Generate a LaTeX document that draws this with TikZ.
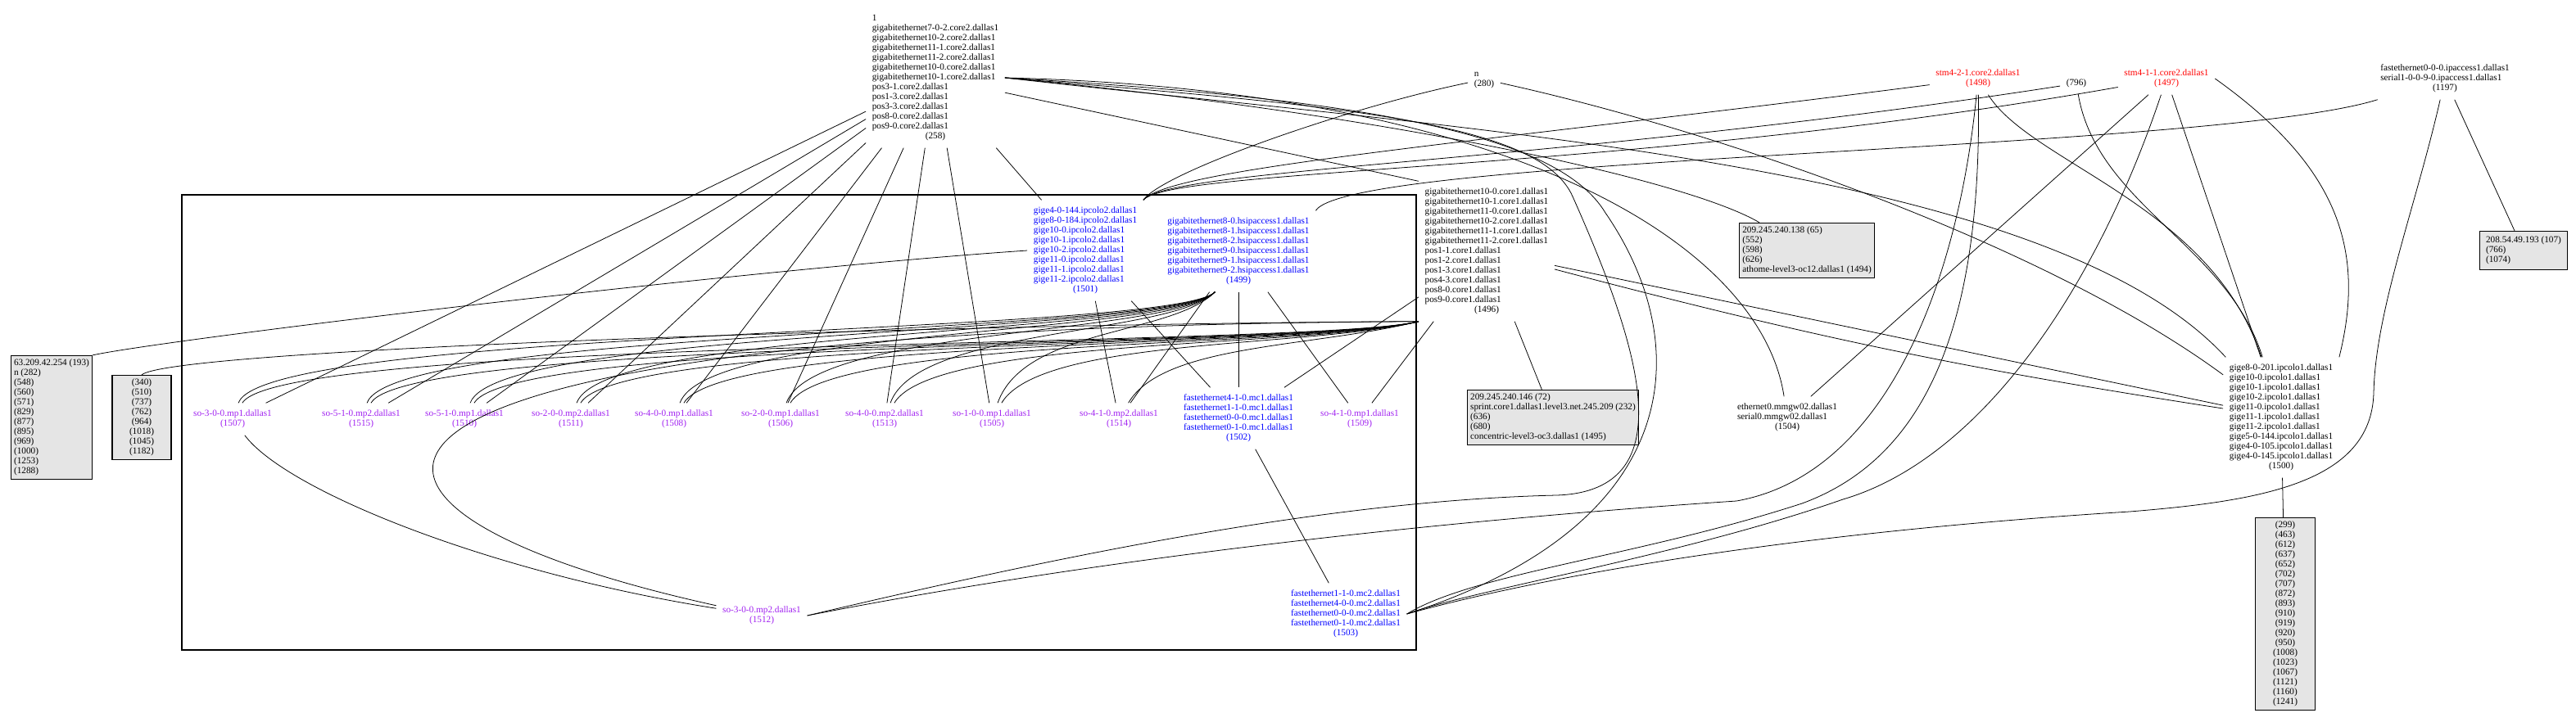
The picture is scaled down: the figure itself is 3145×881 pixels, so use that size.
\documentclass[tikz,border=0pt]{standalone}
\usepackage{fontspec}
\setmainfont{Liberation Serif}
\usetikzlibrary{positioning}
\definecolor{soviolet}{RGB}{160,32,240}
\tikzset{
    host/.style = {inner sep=2pt, font=\fontsize{3.2}{3.41}\selectfont},
    hostb/.style = {host, text=blue},
    hostr/.style = {host, text=red},
    hostv/.style = {host, text=soviolet},
    pool/.style = {rectangle, draw=black, line width=0.4pt, fill=black!10, inner sep=1pt, font=\fontsize{3.2}{3.41}\selectfont},
    link/.style = {draw=black, line width=0.22pt},
    cluster/.style = {draw=black, line width=0.4pt},
}
\newcommand{\Lb}[1]{\begin{tabular}{@{}l@{}}#1\end{tabular}}
\newcommand{\Cb}[1]{\begin{tabular}{@{}c@{}}#1\end{tabular}}
\newcommand{\Nb}[1]{\multicolumn{1}{@{}c@{}}{(#1)}}

\begin{document}
\begin{tikzpicture}[x=0.01cm, y=-0.01cm]
\useasboundingbox (0,0) rectangle (3145,881);
\draw[cluster] (222,238) rectangle (1729,794);
% top row
\node[host] at (1142, 95) (n258) {\Lb{1\\gigabitethernet7-0-2.core2.dallas1\\gigabitethernet10-2.core2.dallas1\\gigabitethernet11-1.core2.dallas1\\gigabitethernet11-2.core2.dallas1\\gigabitethernet10-0.core2.dallas1\\gigabitethernet10-1.core2.dallas1\\pos3-1.core2.dallas1\\pos1-3.core2.dallas1\\pos3-3.core2.dallas1\\pos8-0.core2.dallas1\\pos9-0.core2.dallas1\\\Nb{258}}};
\node[host] at (1812, 97) (n280) {\Lb{n\\\Nb{280}}};
\node[hostr] at (2415, 96) (n1498) {\Lb{stm4-2-1.core2.dallas1\\\Nb{1498}}};
\node[host] at (2535, 102) (n796) {(796)};
\node[hostr] at (2645, 96) (n1497) {\Lb{stm4-1-1.core2.dallas1\\\Nb{1497}}};
\node[host] at (2985, 96) (n1197) {\Lb{fastethernet0-0-0.ipaccess1.dallas1\\serial1-0-0-9-0.ipaccess1.dallas1\\\Nb{1197}}};
% middle row
\node[hostb] at (1325, 306) (n1501) {\Lb{gige4-0-144.ipcolo2.dallas1\\gige8-0-184.ipcolo2.dallas1\\gige10-0.ipcolo2.dallas1\\gige10-1.ipcolo2.dallas1\\gige10-2.ipcolo2.dallas1\\gige11-0.ipcolo2.dallas1\\gige11-1.ipcolo2.dallas1\\gige11-2.ipcolo2.dallas1\\\Nb{1501}}};
\node[hostb] at (1512, 307) (n1499) {\Lb{gigabitethernet8-0.hsipaccess1.dallas1\\gigabitethernet8-1.hsipaccess1.dallas1\\gigabitethernet8-2.hsipaccess1.dallas1\\gigabitethernet9-0.hsipaccess1.dallas1\\gigabitethernet9-1.hsipaccess1.dallas1\\gigabitethernet9-2.hsipaccess1.dallas1\\\Nb{1499}}};
\node[host] at (1815, 307) (n1496) {\Lb{gigabitethernet10-0.core1.dallas1\\gigabitethernet10-1.core1.dallas1\\gigabitethernet11-0.core1.dallas1\\gigabitethernet10-2.core1.dallas1\\gigabitethernet11-1.core1.dallas1\\gigabitethernet11-2.core1.dallas1\\pos1-1.core1.dallas1\\pos1-2.core1.dallas1\\pos1-3.core1.dallas1\\pos4-3.core1.dallas1\\pos8-0.core1.dallas1\\pos9-0.core1.dallas1\\\Nb{1496}}};
\node[pool, minimum width=1.55cm, minimum height=0.65cm] at (2206, 306) (box138) {\Lb{209.245.240.138 (65)\\(552)\\(598)\\(626)\\athome-level3-oc12.dallas1 (1494)}};
\node[pool, minimum width=1.07cm, minimum height=0.47cm] at (3081, 306) (box107) {\Lb{208.54.49.193 (107)\\(766)\\(1074)}};
% so row
\node[hostv] at (284, 512) (s1507) {\Lb{so-3-0-0.mp1.dallas1\\\Nb{1507}}};
\node[hostv] at (441, 512) (s1515) {\Lb{so-5-1-0.mp2.dallas1\\\Nb{1515}}};
\node[hostv] at (567, 512) (s1510) {\Lb{so-5-1-0.mp1.dallas1\\\Nb{1510}}};
\node[hostv] at (697, 512) (s1511) {\Lb{so-2-0-0.mp2.dallas1\\\Nb{1511}}};
\node[hostv] at (823, 512) (s1508) {\Lb{so-4-0-0.mp1.dallas1\\\Nb{1508}}};
\node[hostv] at (953, 512) (s1506) {\Lb{so-2-0-0.mp1.dallas1\\\Nb{1506}}};
\node[hostv] at (1080, 512) (s1513) {\Lb{so-4-0-0.mp2.dallas1\\\Nb{1513}}};
\node[hostv] at (1211, 512) (s1505) {\Lb{so-1-0-0.mp1.dallas1\\\Nb{1505}}};
\node[hostv] at (1366, 512) (s1514) {\Lb{so-4-1-0.mp2.dallas1\\\Nb{1514}}};
\node[hostb] at (1512, 511) (n1502) {\Lb{fastethernet4-1-0.mc1.dallas1\\fastethernet1-1-0.mc1.dallas1\\fastethernet0-0-0.mc1.dallas1\\fastethernet0-1-0.mc1.dallas1\\\Nb{1502}}};
\node[hostv] at (1660, 512) (s1509) {\Lb{so-4-1-0.mp1.dallas1\\\Nb{1509}}};
\node[pool, minimum width=0.99cm, minimum height=1.5cm] at (63, 510) (box63) {\Lb{63.209.42.254 (193)\\n (282)\\(548)\\(560)\\(571)\\(829)\\(877)\\(895)\\(969)\\(1000)\\(1253)\\(1288)}};
\node[pool, minimum width=0.72cm, minimum height=1.02cm] at (173, 510) (box340) {\Cb{(340)\\(510)\\(737)\\(762)\\(964)\\(1018)\\(1045)\\(1182)}};
\node[pool, minimum width=2.06cm, minimum height=0.64cm] at (1896, 510) (box146) {\Lb{209.245.240.146 (72)\\sprint.core1.dallas1.level3.net.245.209 (232)\\(636)\\(680)\\concentric-level3-oc3.dallas1 (1495)}};
\node[host] at (2182, 510) (n1504) {\Lb{ethernet0.mmgw02.dallas1\\serial0.mmgw02.dallas1\\\Nb{1504}}};
\node[host] at (2785, 510) (n1500) {\Lb{gige8-0-201.ipcolo1.dallas1\\gige10-0.ipcolo1.dallas1\\gige10-1.ipcolo1.dallas1\\gige10-2.ipcolo1.dallas1\\gige11-0.ipcolo1.dallas1\\gige11-1.ipcolo1.dallas1\\gige11-2.ipcolo1.dallas1\\gige5-0-144.ipcolo1.dallas1\\gige4-0-105.ipcolo1.dallas1\\gige4-0-145.ipcolo1.dallas1\\\Nb{1500}}};
% bottom row
\node[hostv] at (930, 752) (s1512) {\Lb{so-3-0-0.mp2.dallas1\\\Nb{1512}}};
\node[hostb] at (1643, 750) (n1503) {\Lb{fastethernet1-1-0.mc2.dallas1\\fastethernet4-0-0.mc2.dallas1\\fastethernet0-0-0.mc2.dallas1\\fastethernet0-1-0.mc2.dallas1\\\Nb{1503}}};
\node[pool, minimum width=0.73cm, minimum height=2.32cm] at (2790, 750) (box1500) {\Cb{(299)\\(463)\\(612)\\(637)\\(652)\\(702)\\(707)\\(872)\\(893)\\(910)\\(919)\\(920)\\(950)\\(1008)\\(1023)\\(1067)\\(1121)\\(1160)\\(1241)}};
%
\draw[link] (n258) edge (s1507);
\draw[link] (n258) edge (s1515);
\draw[link] (n258) edge (s1510);
\draw[link] (n258) edge (s1511);
\draw[link] (n258) edge (s1508);
\draw[link] (n258) edge (s1506);
\draw[link] (n258) edge (s1513);
\draw[link] (n258) edge (s1505);
\draw[link] (n258) edge (n1501);
\draw[link] (n258) edge (n1496.north west);
\draw[link] (n258.east) .. controls (1700,140) and (2060,220) .. (box138);
\draw[link] (n258.east) .. controls (1850,110) and (2150,300) .. (n1504);
\draw[link] (n258.east) .. controls (1800,160) and (2500,200) .. (n1500);
\draw[link] (n258.east) .. controls (1650,120) and (1900,160) .. (1960,260)
    .. controls (2070,420) and (2060,640) .. (n1503.east);
\draw[link] (n258.east) .. controls (1650,130) and (1880,150) .. (1920,240)
    .. controls (2000,420) and (2060,600) .. (1900,605) .. controls (1600,612) and (1250,690) .. (s1512.east);
%
\draw[link] (n1499.-120) .. controls (1430,410) and (324,400) .. (s1507);
\draw[link] (n1499.-120) .. controls (1430,410) and (481,400) .. (s1515);
\draw[link] (n1499.-120) .. controls (1430,410) and (607,400) .. (s1510);
\draw[link] (n1499.-120) .. controls (1430,410) and (737,400) .. (s1511);
\draw[link] (n1499.-120) .. controls (1430,410) and (863,400) .. (s1508);
\draw[link] (n1499.-120) .. controls (1430,410) and (993,400) .. (s1506);
\draw[link] (n1499.-120) .. controls (1430,410) and (1120,400) .. (s1513);
\draw[link] (n1499.-120) .. controls (1430,410) and (1251,400) .. (s1505);
\draw[link] (n1499) edge (s1514);
\draw[link] (n1499) edge (n1502);
\draw[link] (n1499) edge (s1509);
%
\draw[link] (n1496.south west) .. controls (1600,425) and (344,412) .. (s1507);
\draw[link] (n1496.south west) .. controls (1600,425) and (501,412) .. (s1515);
\draw[link] (n1496.south west) .. controls (1600,425) and (627,412) .. (s1510);
\draw[link] (n1496.south west) .. controls (1600,425) and (757,412) .. (s1511);
\draw[link] (n1496.south west) .. controls (1600,425) and (883,412) .. (s1508);
\draw[link] (n1496.south west) .. controls (1600,425) and (1013,412) .. (s1506);
\draw[link] (n1496.south west) .. controls (1600,425) and (1140,412) .. (s1513);
\draw[link] (n1496.south west) .. controls (1600,425) and (1271,412) .. (s1505);
\draw[link] (n1496.south west) .. controls (1600,425) and (1420,420) .. (s1514);
\draw[link] (n1496) edge (s1509);
\draw[link] (n1496) edge (n1502);
\draw[link] (n1496) edge (box146);
\draw[link] (n1496) edge (n1500);
\draw[link] (n1496) edge[bend right=3] (n1500);
\draw[link] (n1496.south west) .. controls (300,400) and (330,620) .. (s1512);
%
\draw[link] (n1501.north east) .. controls (1420,210) and (1650,130) .. (n280);
\draw[link] (n1501.north east) .. controls (1430,205) and (1800,175) .. (n1498);
\draw[link] (n1501.north east) .. controls (1430,205) and (1900,200) .. (n796);
\draw[link] (n1501.north east) .. controls (1430,205) and (2000,210) .. (n1497);
\draw[link] (n1501) edge (n1502);
\draw[link] (n1501) edge (s1514);
\draw[link] (box63.north east) .. controls (200,415) and (900,330) .. (n1501.west);
\draw[link] (box340.north) .. controls (215,425) and (1200,395) .. (n1496.south west);
\draw[link] (n280) .. controls (2100,160) and (2500,300) .. (n1500);
%
\draw[link] (n1498) .. controls (2420,400) and (2350,560) .. (2200,615)
    .. controls (2000,680) and (1800,700) .. (n1503.east);
\draw[link] (n1498) .. controls (2480,200) and (2700,250) .. (n1500);
\draw[link] (n1498) .. controls (2390,350) and (2300,580) .. (2120,612)
    .. controls (1700,640) and (1300,690) .. (s1512.east);
\draw[link] (n796) .. controls (2560,250) and (2720,300) .. (n1500);
\draw[link] (n1497) edge (n1504);
\draw[link] (n1497) edge (n1500);
\draw[link] (n1497) .. controls (2560,350) and (2420,560) .. (2250,610)
    .. controls (2050,680) and (1800,720) .. (n1503.east);
\draw[link] (n1497.east) .. controls (2850,200) and (2890,300) .. (n1500.north east);
\draw[link] (n1197) edge (box107);
\draw[link] (n1197) .. controls (2700,185) and (1650,190) .. (n1499.north east);
\draw[link] (n1197) .. controls (2950,250) and (2900,380) .. (2898,480)
    .. controls (2895,590) and (2760,612) .. (2600,625) .. controls (2200,650) and (1900,700) .. (n1503.east);
%
\draw[link] (n1500) edge (box1500);
\draw[link] (s1507) .. controls (350,600) and (600,700) .. (s1512);
\draw[link] (n1502) edge (n1503);
\end{tikzpicture}
\end{document}
